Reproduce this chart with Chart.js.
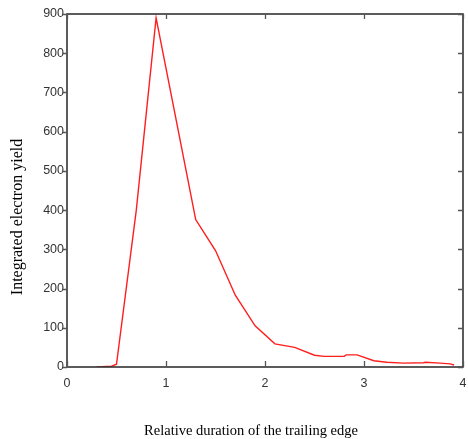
<!DOCTYPE html>
<html>
<head>
<meta charset="utf-8">
<script src="https://cdn.jsdelivr.net/npm/chart.js@4/dist/chart.umd.min.js"></script>
<style>
  html, body { margin: 0; padding: 0; background: #fff; }
  #wrap { width: 468px; height: 439px; }
</style>
</head>
<body>
<div id="wrap"><canvas id="c" width="468" height="439"></canvas></div>
<script>
// Data
const durations = [0.3, 0.45, 0.5, 0.7, 0.9, 1.1, 1.3, 1.5, 1.7, 1.9, 2.1, 2.3, 2.5, 2.6, 2.8, 2.82, 2.93, 3.1, 3.23, 3.4, 3.6, 3.62, 3.77, 3.87, 3.91];
const yields    = [0,   2,    7,   400, 890, 633, 376, 297, 183, 105, 59,  50,  30,  27,  27,  31,   31,   16,  12,   10,  11,  12,   10,   8,    5];
const xTickValues = [0, 1, 2, 3, 4];
const yTickValues = [0, 100, 200, 300, 400, 500, 600, 700, 800, 900];
const xTitle = 'Relative duration of the trailing edge';
const yTitle = 'Integrated electron yield';

const points = durations.map((d, i) => ({ x: d, y: yields[i] }));

const framePlugin = {
  id: 'frame',
  afterDraw(chart) {
    const { ctx, chartArea: a, scales } = chart;
    const xs = scales.x, ys = scales.y;
    ctx.save();
    ctx.strokeStyle = '#333';
    ctx.lineWidth = 1.6;
    ctx.strokeRect(a.left, a.top, a.right - a.left, a.bottom - a.top);
    ctx.lineWidth = 1.3;
    ctx.strokeStyle = '#555';
    ctx.beginPath();
    xTickValues.forEach(v => {
      const px = Math.round(xs.getPixelForValue(v)) + 0.5;
      ctx.moveTo(px, a.bottom); ctx.lineTo(px, a.bottom - 6);
      ctx.moveTo(px, a.top); ctx.lineTo(px, a.top + 5);
    });
    yTickValues.forEach(v => {
      const py = Math.round(ys.getPixelForValue(v)) + 0.5;
      ctx.moveTo(a.left, py); ctx.lineTo(a.left - 4, py);
      ctx.moveTo(a.right, py); ctx.lineTo(a.right - 5, py);
    });
    ctx.stroke();
    ctx.fillStyle = '#000';
    ctx.font = '14.5px "Liberation Serif", "Times New Roman", serif';
    ctx.textAlign = 'center';
    ctx.textBaseline = 'middle';
    ctx.fillText(xTitle, 251, 431);
    ctx.translate(18, 217);
    ctx.rotate(-Math.PI / 2);
    ctx.font = '16px "Liberation Serif", "Times New Roman", serif';
    ctx.fillText(yTitle, 0, 0);
    ctx.restore();
  }
};

new Chart(document.getElementById('c'), {
  type: 'line',
  data: {
    datasets: [{
      data: points,
      borderColor: 'rgb(255,30,30)',
      borderWidth: 1.4,
      pointRadius: 0,
      tension: 0,
      fill: false
    }]
  },
  options: {
    responsive: false,
    animation: false,
    devicePixelRatio: 1,
    layout: { padding: { top: 14, right: 5, left: 0, bottom: 0 } },
    plugins: { legend: { display: false }, tooltip: { enabled: false } },
    scales: {
      x: {
        type: 'linear',
        min: 0, max: 4,
        afterFit(s) { s.height = 72; s.paddingLeft = 0; s.paddingRight = 0; },
        afterBuildTicks(s) { s.ticks = xTickValues.map(v => ({ value: v })); },
        grid: { display: false, drawTicks: false },
        border: { display: false },
        ticks: {
          padding: 9,
          color: '#333',
          font: { family: '"Liberation Sans", Arial, sans-serif', size: 12.5 },
          maxRotation: 0,
          callback: v => String(v)
        }
      },
      y: {
        type: 'linear',
        min: 0, max: 900,
        afterFit(s) { s.width = 67; s.paddingTop = 0; s.paddingBottom = 0; },
        afterBuildTicks(s) { s.ticks = yTickValues.map(v => ({ value: v })); },
        grid: { display: false, drawTicks: false },
        border: { display: false },
        ticks: {
          padding: 3,
          color: '#333',
          font: { family: '"Liberation Sans", Arial, sans-serif', size: 12.5 },
          callback: v => String(v)
        }
      }
    }
  },
  plugins: [framePlugin]
});
</script>
</body>
</html>
